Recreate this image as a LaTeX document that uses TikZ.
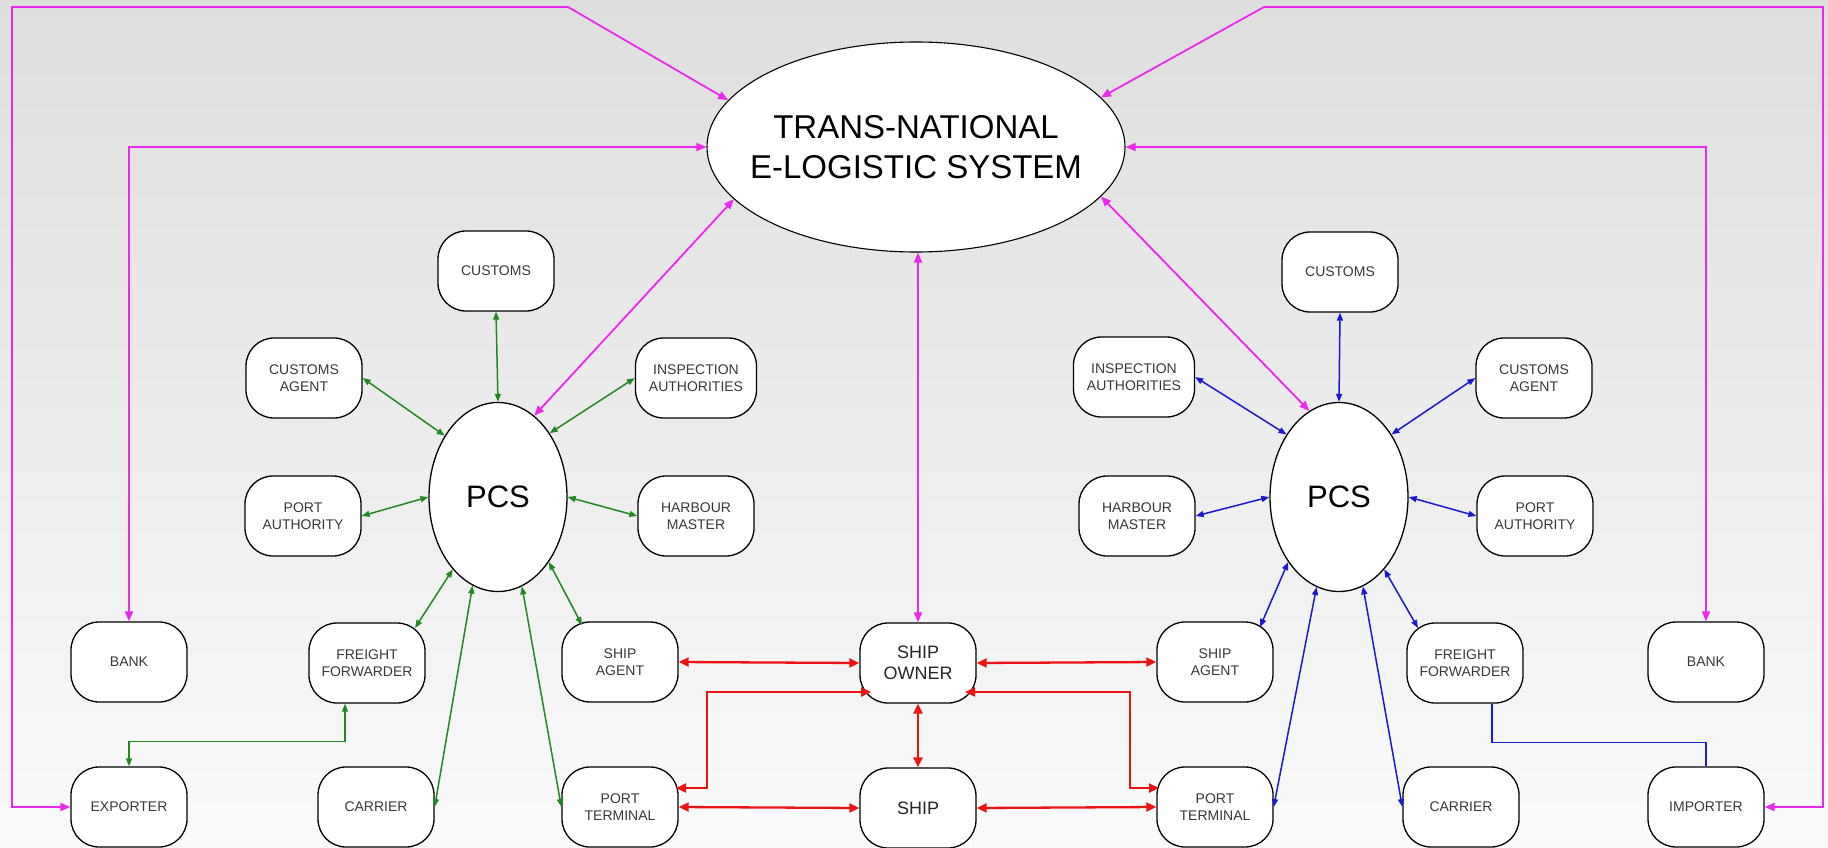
\documentclass[tikz,border=0pt]{standalone}
\usepackage{fontspec}
\setmainfont{Liberation Sans}
\usetikzlibrary{shapes.geometric,arrows.meta,calc}
\definecolor{gcol}{RGB}{35,135,35}
\definecolor{bcol}{RGB}{25,25,210}
\definecolor{rcol}{RGB}{235,20,20}
\definecolor{pcol}{RGB}{235,40,235}
\definecolor{bgtop}{RGB}{222,222,222}
\definecolor{bgbot}{RGB}{250,250,250}
\tikzset{
  box/.style={draw=black, line width=1.3pt, fill=white, rounded corners=28pt,
    minimum width=116pt, minimum height=80pt, inner sep=2pt, align=center,
    font=\fontsize{14}{17}\selectfont, text=black!78},
  wbox/.style={box, minimum width=121pt},
  bigbox/.style={box, font=\fontsize{18}{21}\selectfont, text=black!85},
  pcsnode/.style={ellipse, draw=black, line width=1.3pt, fill=white,
    minimum width=138pt, minimum height=189pt, inner sep=0pt,
    font=\fontsize{31}{36}\selectfont},
  tnesnode/.style={ellipse, draw=black, line width=1.1pt, fill=white,
    minimum width=418pt, minimum height=210pt, inner xsep=-22pt, inner ysep=0pt,
    align=center, font=\fontsize{33}{40}\selectfont},
  conG/.style={draw=gcol, line width=1.5pt, {Triangle[length=8pt,width=6pt]}-{Triangle[length=8pt,width=6pt]}},
  conB/.style={draw=bcol, line width=1.5pt, {Triangle[length=8pt,width=6pt]}-{Triangle[length=8pt,width=6pt]}},
  conBplain/.style={draw=bcol, line width=1.5pt},
  conR/.style={draw=rcol, line width=2.3pt, {Triangle[length=10pt,width=9pt]}-{Triangle[length=10pt,width=9pt]}},
  conP/.style={draw=pcol, line width=1.8pt, {Triangle[length=10pt,width=8pt]}-{Triangle[length=10pt,width=8pt]}},
}
\begin{document}
\begin{tikzpicture}[x=1pt,y=-1pt]
\useasboundingbox (0,0) rectangle (1828,848);
\shade[top color=bgtop, bottom color=bgbot] (0,0) rectangle (1828,848);

% main nodes
\node[tnesnode] (tnes) at (916,147) {TRANS-NATIONAL\\E-LOGISTIC SYSTEM};
\node[pcsnode] (pcsL) at (498,497) {PCS};
\node[pcsnode] (pcsR) at (1339,497) {PCS};

% left cluster
\node[box] (cusL) at (496,271) {CUSTOMS};
\node[box] (caL) at (304,378) {CUSTOMS\\AGENT};
\node[wbox] (iaL) at (696,378) {INSPECTION\\AUTHORITIES};
\node[box] (paL) at (303,516) {PORT\\AUTHORITY};
\node[box] (hmL) at (696,516) {HARBOUR\\MASTER};
\node[box] (bankL) at (129,662) {BANK};
\node[box] (ffL) at (367,663) {FREIGHT\\FORWARDER};
\node[box] (saL) at (620,662) {SHIP\\AGENT};
\node[box] (expo) at (129,807) {EXPORTER};
\node[box] (carL) at (376,807) {CARRIER};
\node[box] (ptL) at (620,807) {PORT\\TERMINAL};

% centre
\node[bigbox] (so) at (918,663) {SHIP\\OWNER};
\node[bigbox] (ship) at (918,808) {SHIP};

% right cluster
\node[box] (cusR) at (1340,272) {CUSTOMS};
\node[wbox] (iaR) at (1134,377) {INSPECTION\\AUTHORITIES};
\node[box] (caR) at (1534,378) {CUSTOMS\\AGENT};
\node[box] (hmR) at (1137,516) {HARBOUR\\MASTER};
\node[box] (paR) at (1535,516) {PORT\\AUTHORITY};
\node[box] (saR) at (1215,662) {SHIP\\AGENT};
\node[box] (ffR) at (1465,663) {FREIGHT\\FORWARDER};
\node[box] (bankR) at (1706,662) {BANK};
\node[box] (ptR) at (1215,807) {PORT\\TERMINAL};
\node[box] (carR) at (1461,807) {CARRIER};
\node[box] (imp) at (1706,807) {IMPORTER};

% corner coordinates of the outer magenta lines
\coordinate (pTL) at (12,7);
\coordinate (pTLd) at (568,7);
\coordinate (pTR) at (1823,7);
\coordinate (pTRd) at (1264,7);

% green connectors (left PCS)
\draw[conG] (cusL.south) -- (pcsL.north);
\draw[conG] (caL.east) -- (pcsL.131);
\draw[conG] (iaL.west) -- (pcsL.51);
\draw[conG] (paL.east) -- (pcsL.west);
\draw[conG] (pcsL.east) -- (hmL.west);
\draw[conG] (pcsL.238) -- ($(ffL)+(48,-35)$);
\draw[conG] (pcsL.254.5) -- (carL.east);
\draw[conG] (pcsL.285) -- (ptL.west);
\draw[conG] (pcsL.308) -- ($(saL)+(-38,-37)$);
\draw[conG] ($(ffL.south)+(-22,0)$) |- ($(expo.north)+(0,-25)$) -- (expo.north);

% blue connectors (right PCS)
\draw[conB] (cusR.south) -- (pcsR.north);
\draw[conB] (iaR.east) -- (pcsR.130);
\draw[conB] (caR.west) -- (pcsR.50);
\draw[conB] (hmR.east) -- (pcsR.west);
\draw[conB] (pcsR.east) -- (paR.west);
\draw[conB] (pcsR.302) -- ($(ffR)+(-47,-35)$);
\draw[conB] (pcsR.256.5) -- (ptR.east);
\draw[conB] (pcsR.285) -- (carR.west);
\draw[conB] (pcsR.232) -- ($(saR)+(45,-35)$);
\draw[conBplain] ($(ffR.south)+(27,0)$) |- ($(imp.north)+(0,-24)$) -- (imp.north);

% red connectors
\draw[conR] (saL.east) -- (so.west);
\draw[conR] (so.east) -- (saR.west);
\draw[conR] (so.south) -- (ship.north);
\draw[conR] (ptL.east) -- (ship.west);
\draw[conR] (ship.east) -- (ptR.west);
\draw[conR] ($(ptL)+(56,-19)$) -- ++(31,0) |- ($(so)+(-47,29)$);
\draw[conR] ($(ptR)+(-56,-19)$) -- ++(-29,0) |- ($(so)+(47,29)$);

% magenta connectors
\draw[conP] (expo.west) -| (pTL) -- (pTLd) -- (tnes.166.9);
\draw[conP] (bankL.north) |- (tnes.west);
\draw[conP] (tnes.196.5) -- (pcsL.66.5);
\draw[conP] (so.north) -- (so.north |- tnes.south);
\draw[conP] (tnes.345.2) -- (pcsR.109.6);
\draw[conP] (bankR.north) |- (tnes.east);
\draw[conP] (imp.east) -| (pTR) -- (pTRd) -- (tnes.15.5);
\end{tikzpicture}
\end{document}
